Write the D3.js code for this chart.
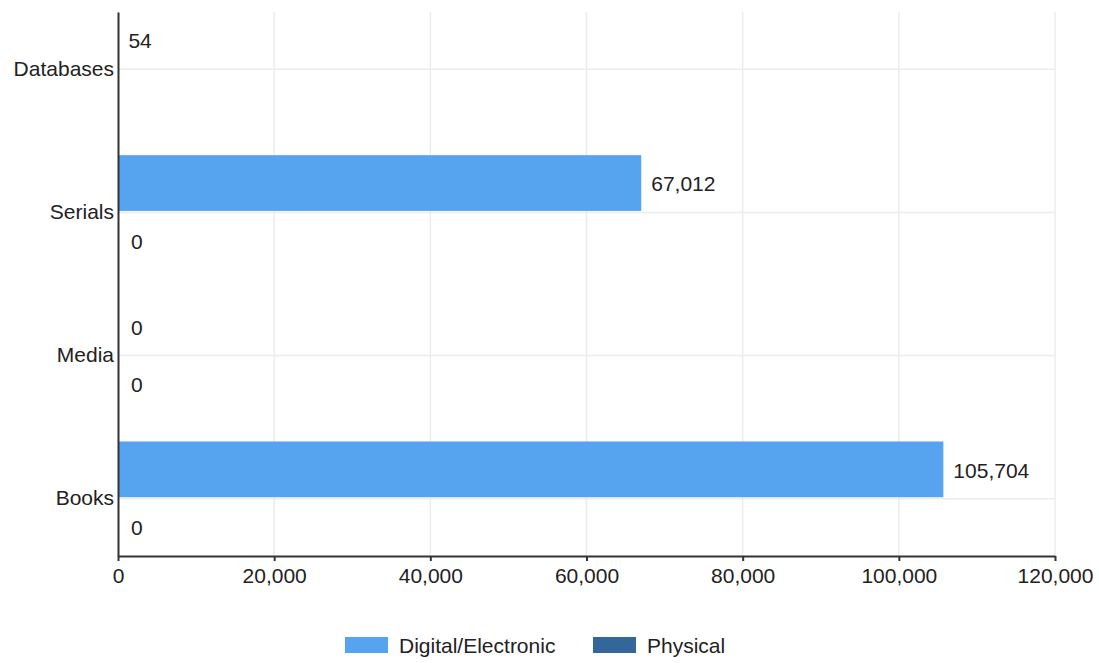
<!DOCTYPE html>
<html>
<head>
<meta charset="utf-8">
<script src="https://cdn.jsdelivr.net/npm/d3@7"></script>
<style>
  body { margin: 0; background: #fff; }
  text { font-family: "Liberation Sans", Arial, sans-serif; fill: #222; }
</style>
</head>
<body>
<svg id="chart" width="1099" height="663"></svg>
<script>
// data
var categories = ["Databases", "Serials", "Media", "Books"];
var seriesNames = ["Digital/Electronic", "Physical"];
var digitalValues = [54, 67012, 0, 105704];
var physicalValues = [null, 0, 0, 0];
var xTicks = [0, 20000, 40000, 60000, 80000, 100000, 120000];
var colors = ["#56a4f0", "#336699"];

var fontSize = 21;
var margin = { top: 12, right: 44, bottom: 107, left: 118 };
var width = 1099 - margin.left - margin.right;
var height = 663 - margin.top - margin.bottom;

var svg = d3.select("#chart");
var g = svg.append("g").attr("transform", "translate(" + margin.left + "," + margin.top + ")");

var x = d3.scaleLinear().domain([0, 120000]).range([0, width]);
var y = d3.scaleBand().domain(categories).range([0, height]).paddingInner(0.2).paddingOuter(0);
var ySub = d3.scaleBand().domain(seriesNames).range([0, y.bandwidth()]);

// grid lines
g.selectAll(".vgrid").data(xTicks.slice(1)).enter().append("line")
    .attr("x1", function (d) { return x(d); })
    .attr("x2", function (d) { return x(d); })
    .attr("y1", 0).attr("y2", height)
    .attr("stroke", "#ececec").attr("stroke-width", 1.5);
g.selectAll(".hgrid").data(categories).enter().append("line")
    .attr("x1", 0).attr("x2", width)
    .attr("y1", function (d) { return y(d) + y.bandwidth() / 2; })
    .attr("y2", function (d) { return y(d) + y.bandwidth() / 2; })
    .attr("stroke", "#ececec").attr("stroke-width", 1.5);

// bars
var rows = [];
categories.forEach(function (c, i) {
    rows.push({ cat: c, series: seriesNames[0], value: digitalValues[i], color: colors[0] });
    rows.push({ cat: c, series: seriesNames[1], value: physicalValues[i], color: colors[1] });
});
rows = rows.filter(function (d) { return d.value != null; });

g.selectAll(".bar").data(rows).enter().append("rect")
    .attr("x", 0)
    .attr("y", function (d) { return y(d.cat) + ySub(d.series); })
    .attr("width", function (d) { return x(d.value); })
    .attr("height", ySub.bandwidth() - 1.5)
    .attr("fill", function (d) { return d.color; });

var fmt = d3.format(",");
g.selectAll(".val").data(rows).enter().append("text")
    .attr("x", function (d) { return x(d.value) + (d.value > 0 ? 10 : 13); })
    .attr("y", function (d) { return y(d.cat) + ySub(d.series) + ySub.bandwidth() / 2; })
    .attr("dy", "0.36em")
    .attr("font-size", fontSize)
    .text(function (d) { return fmt(d.value); });

// axes
var xAxis = g.append("g").attr("transform", "translate(0," + height + ")")
    .call(d3.axisBottom(x).tickValues(xTicks).tickFormat(fmt).tickSize(5).tickSizeOuter(0));
xAxis.select(".domain").attr("stroke", "#333").attr("stroke-width", 2);
xAxis.selectAll(".tick line").attr("stroke", "#333").attr("stroke-width", 2);
xAxis.selectAll(".tick text").attr("font-size", fontSize).attr("font-family", "Liberation Sans, Arial, sans-serif")
    .attr("fill", "#222").attr("dy", "0.9em");

var yAxis = g.append("g")
    .call(d3.axisLeft(y).tickSize(0).tickPadding(4));
yAxis.select(".domain").attr("stroke", "#333").attr("stroke-width", 2);
yAxis.selectAll(".tick text").attr("font-size", fontSize).attr("font-family", "Liberation Sans, Arial, sans-serif")
    .attr("fill", "#222");

// legend
var legend = svg.append("g");
var legendX = [345, 593];
seriesNames.forEach(function (name, i) {
    legend.append("rect")
        .attr("x", legendX[i]).attr("y", 637)
        .attr("width", 43).attr("height", 16)
        .attr("fill", colors[i]);
    legend.append("text")
        .attr("x", legendX[i] + 54).attr("y", 645)
        .attr("dy", "0.36em")
        .attr("font-size", fontSize)
        .text(name);
});
</script>
</body>
</html>
